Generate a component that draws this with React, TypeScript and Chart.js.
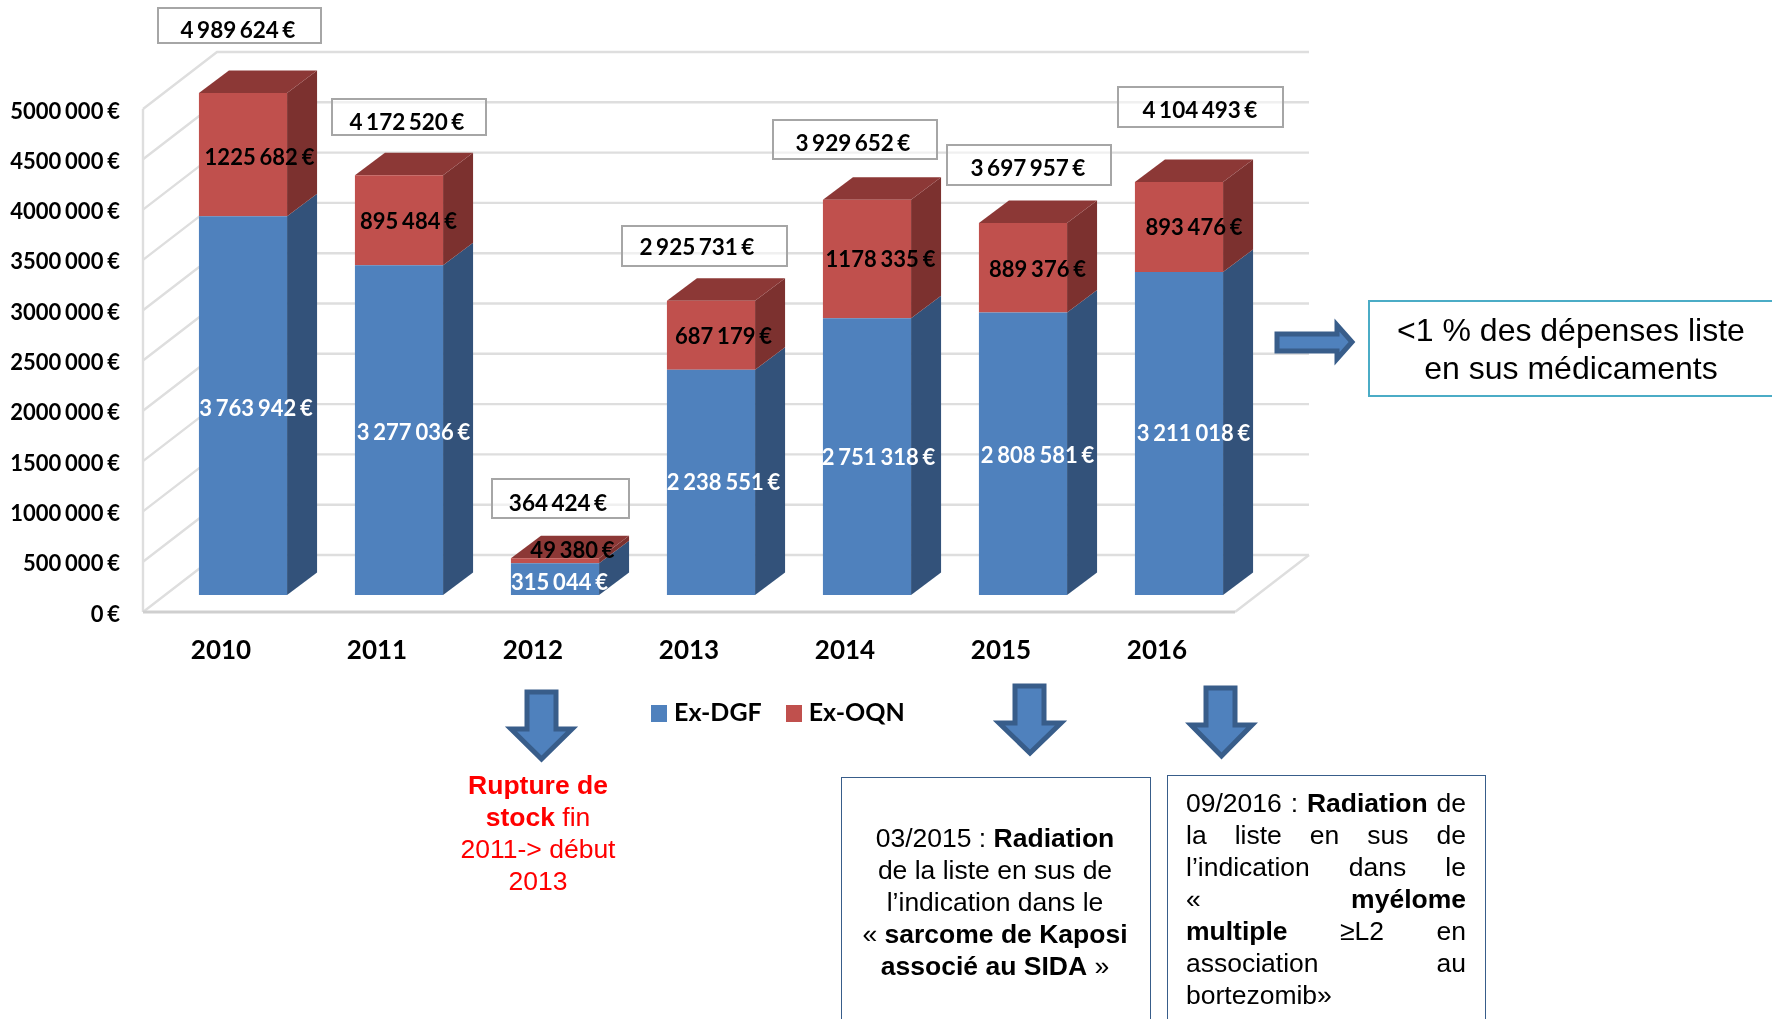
import React, { useEffect, useRef } from "react";
import { Chart, registerables } from "chart.js";

Chart.register(...registerables);

// ---- data ----
const YEARS = ["2010", "2011", "2012", "2013", "2014", "2015", "2016"];
const EX_DGF = [3763942, 3277036, 315044, 2238551, 2751318, 2808581, 3211018];
const EX_OQN = [1225682, 895484, 49380, 687179, 1178335, 889376, 893476];
const TOTALS = ["4 989 624 €", "4 172 520 €", "364 424 €", "2 925 731 €", "3 929 652 €", "3 697 957 €", "4 104 493 €"];
const DGF_LABELS = ["3 763 942 €", "3 277 036 €", "315 044 €", "2 238 551 €", "2 751 318 €", "2 808 581 €", "3 211 018 €"];
const OQN_LABELS = ["1225 682 €", "895 484 €", "49 380 €", "687 179 €", "1178 335 €", "889 376 €", "893 476 €"];
const Y_MAX = 5000000;
const Y_STEP = 500000;

// ---- layout & style ----
const W = 1772, H = 1019;
const AREA = { left: 165, right: 1257, top: 92, bottom: 595 };
const BAR_DX = 30, BAR_DY = 22.5;
const WALL = { frontDx: -22, frontDy: 17, backDx: 52, backDy: -40 };
const TICK_LABEL_DY = 19.5;
const C = {
  blue: "#4F81BD", blueSide: "#33527A", red: "#C0504D", redSide: "#7C312F", redTop: "#8C3836",
  grid: "#DEDEDE", floor: "#CFCFCF", arrowEdge: "#385D8A",
};
const LATO = "Lato, sans-serif";
const ARIAL = "'Liberation Sans', Arial, sans-serif";
const DGF_OFF = [[13, 3], [14.5, 3], [4.5, 4], [12.5, 1], [11.5, 1], [14.5, 2], [14.5, 0]];
const OQN_OFF = [[16.5, 3], [9.5, 2], [17.5, -10], [12.5, 2], [13.5, 1], [14.5, 2], [15, 1]];
const TOTAL_BOXES = [
  { l: 157, t: 7, w: 165, h: 37, cx: 238, cy: 31 },
  { l: 331, t: 98, w: 156, h: 38, cx: 407, cy: 123 },
  { l: 491, t: 478, w: 139, h: 41, cx: 558, cy: 504 },
  { l: 621, t: 225, w: 167, h: 42, cx: 697, cy: 248 },
  { l: 772, t: 119, w: 166, h: 41, cx: 853, cy: 144 },
  { l: 946, t: 144, w: 166, h: 42, cx: 1028, cy: 169 },
  { l: 1117, t: 86, w: 167, h: 42, cx: 1200, cy: 111 },
];

const swatch = (color: string) => {
  const c = document.createElement("canvas");
  c.width = 16;
  c.height = 17;
  const g = c.getContext("2d") as CanvasRenderingContext2D;
  g.fillStyle = color;
  g.fillRect(0, 0, 16, 17);
  return c;
};

const depthPlugin = {
  id: "depth3d",
  afterLayout(chart: any) {
    const lg = chart.legend;
    if (lg) {
      const w = lg.right - lg.left;
      const h = lg.bottom - lg.top;
      lg.left = 627; lg.right = 627 + w; lg.top = 671; lg.bottom = 671 + h;
    }
  },
  beforeDraw(chart: any) {
    chart.ctx.wordSpacing = "-1.5px";
  },
  beforeDatasetsDraw(chart: any) {
    const { ctx, scales } = chart;
    const y = scales.y, x = scales.x;
    ctx.save();
    ctx.lineCap = "butt";
    ctx.lineWidth = 2.4;
    ctx.strokeStyle = C.grid;
    // left wall edge
    ctx.beginPath();
    ctx.moveTo(x.left + WALL.frontDx, y.getPixelForValue(Y_MAX) + WALL.frontDy);
    ctx.lineTo(x.left + WALL.frontDx, y.getPixelForValue(0) + WALL.frontDy);
    ctx.stroke();
    // gridlines on wall and back
    y.ticks.forEach((t: any) => {
      const p = y.getPixelForValue(t.value);
      ctx.beginPath();
      ctx.moveTo(x.left + WALL.frontDx, p + WALL.frontDy);
      ctx.lineTo(x.left + WALL.backDx, p + WALL.backDy);
      ctx.lineTo(x.right + WALL.backDx, p + WALL.backDy);
      ctx.stroke();
    });
    // floor
    const p0 = y.getPixelForValue(0);
    ctx.beginPath();
    ctx.moveTo(x.right + WALL.backDx, p0 + WALL.backDy);
    ctx.lineTo(x.right + WALL.frontDx, p0 + WALL.frontDy);
    ctx.stroke();
    ctx.strokeStyle = C.floor;
    ctx.lineWidth = 3;
    ctx.beginPath();
    ctx.moveTo(x.left + WALL.frontDx, p0 + WALL.frontDy);
    ctx.lineTo(x.right + WALL.frontDx, p0 + WALL.frontDy);
    ctx.stroke();

    // side and top faces of the bars
    const m0 = chart.getDatasetMeta(0).data, m1 = chart.getDatasetMeta(1).data;
    const poly = (pts: number[][], fill: string) => {
      ctx.fillStyle = fill;
      ctx.beginPath();
      pts.forEach((q, i) => (i ? ctx.lineTo(q[0], q[1]) : ctx.moveTo(q[0], q[1])));
      ctx.closePath();
      ctx.fill();
    };
    m0.forEach((b0: any, i: number) => {
      const b1 = m1[i];
      const r = b0.x + b0.width / 2, l = b0.x - b0.width / 2;
      const yb = b0.base, ym = b0.y, yt = b1.y;
      poly([[r, yb], [r + BAR_DX, yb - BAR_DY], [r + BAR_DX, ym - BAR_DY], [r, ym]], C.blueSide);
      poly([[r, ym], [r + BAR_DX, ym - BAR_DY], [r + BAR_DX, yt - BAR_DY], [r, yt]], C.redSide);
      poly([[l, yt], [l + BAR_DX, yt - BAR_DY], [r + BAR_DX, yt - BAR_DY], [r, yt]], C.redTop);
    });
    ctx.restore();
  },
  afterDatasetsDraw(chart: any) {
    const { ctx } = chart;
    const m0 = chart.getDatasetMeta(0).data, m1 = chart.getDatasetMeta(1).data;
    ctx.save();
    ctx.textAlign = "center";
    ctx.textBaseline = "middle";
    ctx.font = `bold 22px ${LATO}`;
    m0.forEach((b0: any, i: number) => {
      const b1 = m1[i];
      ctx.fillStyle = "#FFFFFF";
      ctx.fillText(DGF_LABELS[i], b0.x + DGF_OFF[i][0], (b0.base + b0.y) / 2 + DGF_OFF[i][1]);
      ctx.fillStyle = "#000000";
      ctx.fillText(OQN_LABELS[i], b1.x + OQN_OFF[i][0], (b0.y + b1.y) / 2 + OQN_OFF[i][1]);
    });
    ctx.restore();
  },
};

function ChartCanvas() {
  const ref = useRef<HTMLCanvasElement | null>(null);
  useEffect(() => {
    const swatches = [swatch(C.blue), swatch(C.red)];
    const chart = new Chart(ref.current as HTMLCanvasElement, {
      type: "bar",
      data: {
        labels: YEARS,
        datasets: [
          { label: "Ex-DGF", data: EX_DGF, backgroundColor: C.blue, stack: "s" },
          { label: "Ex-OQN", data: EX_OQN, backgroundColor: C.red, stack: "s" },
        ],
      },
      plugins: [depthPlugin],
      options: {
        responsive: false,
        animation: false,
        devicePixelRatio: 1,
        layout: { padding: { left: 0, right: W - AREA.right, top: AREA.top, bottom: 0 } },
        datasets: { bar: { barPercentage: 0.565, categoryPercentage: 1 } },
        scales: {
          x: {
            stacked: true,
            grid: { display: false, drawTicks: false },
            border: { display: false },
            afterFit: (s: any) => { s.height = H - AREA.bottom - (s.chart.legend?.height || 0); },
            ticks: {
              color: "#000", padding: 40, labelOffset: WALL.frontDx, maxRotation: 0, autoSkip: false,
              font: { family: "Lato", size: 26, weight: "bold" },
            },
          },
          y: {
            stacked: true,
            min: 0,
            max: Y_MAX,
            grid: { display: false, drawTicks: false },
            border: { display: false },
            afterFit: (s: any) => { s.width = AREA.left; },
            ticks: {
              stepSize: Y_STEP,
              color: "#000",
              padding: 45,
              labelOffset: TICK_LABEL_DY,
              font: { family: "Lato", size: 22, weight: "bold" },
              callback: (v: any) => {
                if (v === 0) return "0 €";
                const n = Number(v);
                const th = Math.floor(n / 1000);
                return `${th} 000 €`;
              },
            },
          },
        },
        plugins: {
          title: { display: false },
          tooltip: { enabled: false },
          legend: {
            display: true,
            position: "bottom",
            align: "start",
            labels: {
              color: "#000",
              usePointStyle: true,
              pointStyleWidth: 5,
              padding: 29.5,
              font: { family: "Lato", size: 25, weight: "bold" },
              generateLabels: (ch: any) =>
                (Chart.defaults as any).plugins.legend.labels.generateLabels(ch).map((it: any, i: number) => ({ ...it, pointStyle: swatches[i] })),
            },
          },
        },
      },
    } as any);
    return () => chart.destroy();
  }, []);
  return <canvas ref={ref} width={W} height={H} style={{ position: "absolute", left: 0, top: 0, width: W, height: H }} />;
}

const Abs = ({ style, children }: any) => <div style={{ position: "absolute", boxSizing: "border-box", ...style }}>{children}</div>;

const blockDown = (l: number, r: number, sl: number, sr: number, top: number, neck: number, tip: number) =>
  `${sl},${top} ${sr},${top} ${sr},${neck} ${r},${neck} ${(l + r) / 2},${tip} ${l},${neck} ${sl},${neck}`;

function Arrows() {
  const props = { fill: C.blue, stroke: C.arrowEdge, strokeWidth: 5, strokeLinejoin: "miter" as const };
  return (
    <svg width={W} height={H} style={{ position: "absolute", left: 0, top: 0 }}>
      <polygon points="1277,334 1337,334 1337,325 1352,342 1337,359 1337,351 1277,351" {...props} />
      <polygon points={blockDown(511, 572, 527, 556, 692, 729, 759)} {...props} />
      <polygon points={blockDown(999, 1061, 1015, 1044, 686, 723, 753)} {...props} />
      <polygon points={blockDown(1191, 1252, 1206, 1235, 688, 725, 756)} {...props} />
    </svg>
  );
}

function Line({ y, children, style }: any) {
  return <div style={{ position: "absolute", left: 0, right: 0, top: y, height: 32, lineHeight: "32px", whiteSpace: "nowrap", ...style }}>{children}</div>;
}

const JUST = { textAlign: "justify", textAlignLast: "justify" };

export default function App() {
  useEffect(() => {
    document.body.style.margin = "0";
  }, []);
  return (
    <div style={{ position: "absolute", left: 0, top: 0, width: W, height: H, overflow: "hidden", background: "#fff" }}>
      <ChartCanvas />
      {TOTAL_BOXES.map((b, i) => (
        <Abs key={i} style={{ left: b.l, top: b.t, width: b.w, height: b.h, border: "2px solid #A6A6A6", background: "rgba(255,255,255,0.55)" }} />
      ))}
      {TOTAL_BOXES.map((b, i) => (
        <div key={i} style={{ position: "absolute", left: b.cx - 100, width: 200, top: b.cy - 15, height: 30, lineHeight: "30px", textAlign: "center", font: `bold 22.5px ${LATO}`, wordSpacing: "-2px", color: "#000" }}>
          {TOTALS[i]}
        </div>
      ))}
      <Arrows />
      <Abs style={{ left: 1368, top: 300, width: 430, height: 97, border: "2px solid #4BACC6", background: "#fff" }} />
      <div style={{ position: "absolute", left: 1368, width: 406, top: 311, textAlign: "center", font: `32px/38px ${ARIAL}`, color: "#000" }}>
        &lt;1 % des dépenses liste<br />en sus médicaments
      </div>
      <div style={{ position: "absolute", left: 438, width: 200, top: 769, textAlign: "center", font: `26.5px/32px ${ARIAL}`, color: "#FF0000" }}>
        <b>Rupture de</b><br /><b>stock</b> fin<br />2011-&gt; début<br />2013
      </div>
      <Abs style={{ left: 841, top: 777, width: 310, height: 300, border: "1px solid #385D8A", background: "#fff" }} />
      <div style={{ position: "absolute", left: 841, width: 308, top: 822, textAlign: "center", font: `26.5px/32px ${ARIAL}`, color: "#000", whiteSpace: "nowrap" }}>
        03/2015 : <b>Radiation</b><br />de la liste en sus de<br />l’indication dans le<br />« <b>sarcome de Kaposi</b><br /><b>associé au SIDA</b> »
      </div>
      <Abs style={{ left: 1167, top: 775, width: 319, height: 300, border: "1px solid #385D8A", background: "#fff" }} />
      <div style={{ position: "absolute", left: 1186, width: 280, top: 787, height: 232, font: `26.5px ${ARIAL}`, color: "#000" }}>
        <Line y={0} style={JUST}>09/2016 : <b>Radiation</b> de</Line>
        <Line y={32} style={JUST}>la liste en sus de</Line>
        <Line y={64} style={JUST}>l’indication dans le</Line>
        <Line y={96} style={JUST}>« <b>myélome</b></Line>
        <Line y={128} style={JUST}><b>multiple</b> ≥L2 en</Line>
        <Line y={160} style={JUST}>association au</Line>
        <Line y={192}>bortezomib»</Line>
      </div>
    </div>
  );
}
